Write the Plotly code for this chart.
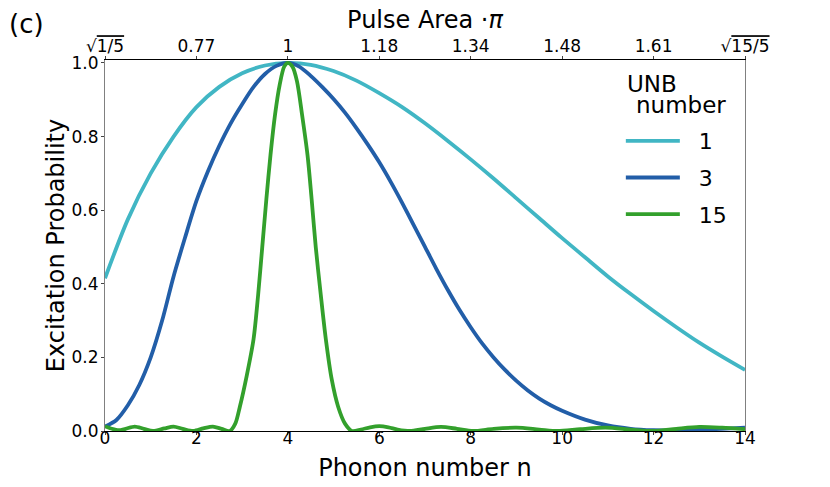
import plotly.graph_objects as go

# Phonon number axis and excitation probability
n_unb1 = [0, 0.5, 1, 1.5, 2, 2.5, 3, 3.5, 4, 4.5, 5, 5.5, 6, 6.5, 7, 7.5,
          8, 8.5, 9, 9.5, 10, 10.5, 11, 11.5, 12, 12.5, 13, 13.5, 14]
p_unb1 = [0.415, 0.575, 0.70, 0.80, 0.88, 0.935, 0.972, 0.993, 1.0, 0.995,
          0.978, 0.952, 0.918, 0.88, 0.836, 0.788, 0.738, 0.686, 0.632,
          0.578, 0.524, 0.472, 0.42, 0.372, 0.326, 0.282, 0.24, 0.202, 0.166]

n_unb3 = [0, 0.25, 0.5, 0.75, 1.0, 1.25, 1.5, 1.75, 2.0, 2.25, 2.5, 2.75,
          3.0, 3.25, 3.5, 3.75, 4.0, 4.25, 4.5, 4.75, 5.0, 5.25, 5.5, 5.75,
          6.0, 6.25, 6.5, 6.75, 7.0, 7.25, 7.5, 7.75, 8.0, 8.25, 8.5, 8.75,
          9.0, 9.25, 9.5, 9.75, 10.0, 10.5, 11.0, 11.5, 12.0, 12.5, 13.0,
          13.5, 14.0]
p_unb3 = [0.012, 0.03, 0.07, 0.125, 0.2, 0.3, 0.42, 0.525, 0.625, 0.705,
          0.775, 0.836, 0.888, 0.935, 0.97, 0.992, 1.0, 0.99, 0.965, 0.935,
          0.902, 0.865, 0.823, 0.778, 0.73, 0.677, 0.62, 0.56, 0.5, 0.44,
          0.383, 0.33, 0.282, 0.238, 0.2, 0.166, 0.136, 0.11, 0.088, 0.07,
          0.055, 0.031, 0.015, 0.006, 0.002, 0.001, 0.003, 0.006, 0.009]

n_unb15 = [0, 0.15, 0.3, 0.45, 0.65, 0.85, 1.05, 1.3, 1.5, 1.7, 1.93, 2.15,
           2.36, 2.55, 2.73, 2.85, 2.95, 3.1, 3.25, 3.35, 3.44, 3.53, 3.62,
           3.72, 3.82, 3.92, 4.0, 4.1, 4.2, 4.31, 4.43, 4.52, 4.61, 4.72,
           4.83, 4.96, 5.1, 5.25, 5.4, 5.6, 5.8, 6.0, 6.2, 6.4, 6.67, 7.0,
           7.35, 7.7, 8.05, 8.5, 9.0, 9.5, 9.9, 10.4, 10.95, 11.5, 12.0,
           12.5, 13.0, 13.5, 14.0]
p_unb15 = [0.013, 0.006, 0.002, 0.006, 0.012, 0.006, 0.0, 0.007, 0.012,
           0.006, 0.0, 0.007, 0.012, 0.006, 0.0, 0.02, 0.066, 0.15, 0.25,
           0.37, 0.5, 0.63, 0.75, 0.86, 0.94, 0.99, 1.0, 0.99, 0.95, 0.86,
           0.75, 0.63, 0.5, 0.37, 0.25, 0.14, 0.066, 0.02, 0.0, 0.004,
           0.010, 0.013, 0.010, 0.004, 0.0, 0.006, 0.011, 0.006, 0.0, 0.006,
           0.009, 0.004, 0.0, 0.005, 0.009, 0.004, 0.0, 0.006, 0.011, 0.009,
           0.005]

series = [
    ("1", n_unb1, p_unb1, "#41b6c4"),
    ("3", n_unb3, p_unb3, "#225ea8"),
    ("15", n_unb15, p_unb15, "#33a02c"),
]

n_ticks = [0, 2, 4, 6, 8, 10, 12, 14]
area_labels = ["\u221a<span style='text-decoration:overline'>1/5</span>",
               "0.77", "1", "1.18", "1.34", "1.48", "1.61",
               "\u221a<span style='text-decoration:overline'>15/5</span>"]

font = "DejaVu Sans"

fig = go.Figure()
for name, xs, ys, color in series:
    fig.add_trace(go.Scatter(
        x=xs, y=ys, name="\u00a0\u00a0" + name, mode="lines",
        line=dict(color=color, width=3.8, shape="spline", smoothing=0.8),
        legendgroup=name,
    ))

# dummy trace so the top axis is drawn
fig.add_trace(go.Scatter(x=[0, 14], y=[None, None], xaxis="x2",
                         showlegend=False, hoverinfo="skip"))

axis_common = dict(showgrid=False, zeroline=False, automargin=False,
                   ticks="outside", ticklen=3, tickfont=dict(size=17))

fig.update_layout(
    width=830, height=487,
    margin=dict(l=105, r=85, t=60, b=56, autoexpand=False),
    plot_bgcolor="white", paper_bgcolor="white",
    font=dict(family=font, size=17, color="black"),
    xaxis=dict(
        range=[0, 14], tickvals=n_ticks, showline=True, linecolor="black",
        linewidth=1, ticklabelstandoff=-11,
        title=dict(text="Phonon number n", font=dict(size=24), standoff=11),
        **axis_common,
    ),
    xaxis2=dict(
        range=[0, 14], overlaying="x", side="top", tickvals=n_ticks,
        ticktext=area_labels, showline=True, linecolor="black", linewidth=1,
        ticklabelstandoff=-3,
        title=dict(text="Pulse Area \u00b7<i>\u03c0</i>", font=dict(size=24),
                   standoff=0),
        **axis_common,
    ),
    yaxis=dict(
        range=[0, 1.008], tickvals=[0, 0.2, 0.4, 0.6, 0.8, 1.0],
        tickformat=".1f", showline=True, linecolor="#808080", linewidth=1,
        mirror=True, ticklabelstandoff=-1,
        title=dict(text="Excitation Probability", font=dict(size=24),
                   standoff=0),
        **axis_common,
    ),
    legend=dict(
        font=dict(size=22), x=0.806, y=0.838, xanchor="left", yanchor="top",
        bgcolor="rgba(0,0,0,0)", tracegroupgap=5, itemwidth=54,
    ),
    annotations=[
        dict(text="(c)", xref="paper", yref="paper", x=-0.153, y=1.097,
             xanchor="left", yanchor="middle", showarrow=False,
             font=dict(size=26)),
        dict(text="UNB", xref="paper", yref="paper", x=0.812, y=0.936,
             xanchor="left", yanchor="middle", showarrow=False,
             font=dict(size=23)),
        dict(text="number", xref="paper", yref="paper", x=0.826, y=0.88,
             xanchor="left", yanchor="middle", showarrow=False,
             font=dict(size=23)),
    ],
)

fig.write_html("out.html", config={"displayModeBar": False},
               post_script="document.body.style.margin='0';")
